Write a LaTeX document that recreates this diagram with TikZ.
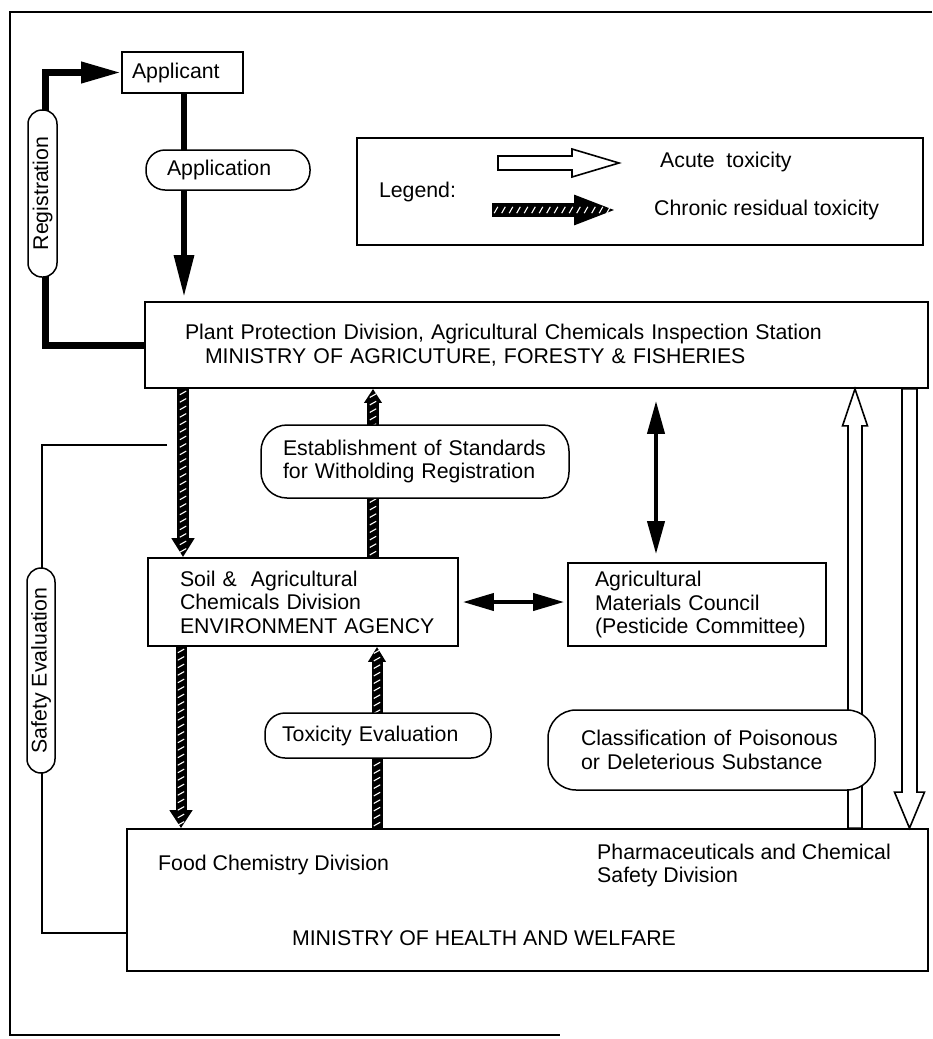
\documentclass[tikz,border=0pt]{standalone}
\usepackage{fontspec}
\setmainfont{Liberation Sans}
\usetikzlibrary{arrows.meta,decorations.markings,calc}
\pgfdeclarelayer{background}
\pgfsetlayers{background,main}
% white (acute toxicity) arrow, vertical: start, tip, shaft half width, head half width, signed head length (user units)
\newcommand\acuteV[5]{%
  \draw[acutestyle] ($(#1)+(-#3,0)$) -- ($(#2)+(-#3,#5)$) -- ($(#2)+(-#4,#5)$) -- (#2)
   -- ($(#2)+(#4,#5)$) -- ($(#2)+(#3,#5)$) -- ($(#1)+(#3,0)$) -- cycle;}
\newcommand\acuteH[5]{%
  \draw[acutestyle] ($(#1)+(0,-#3)$) -- ($(#2)+(#5,-#3)$) -- ($(#2)+(#5,-#4)$) -- (#2)
   -- ($(#2)+(#5,#4)$) -- ($(#2)+(#5,#3)$) -- ($(#1)+(0,#3)$) -- cycle;}
\tikzset{
  every node/.style={font=\fontsize{21.3}{23.5}\selectfont},
  box/.style={draw, line width=1.8pt, align=left, inner sep=0pt},
  pill/.style={draw, fill=white, line width=1.5pt, align=left, inner sep=0pt},
  txt/.style={inner sep=0pt},
  acutestyle/.style={draw=black, fill=white, line width=1.6pt, line join=miter},
  hatchV/.style={draw=black, postaction={decorate, decoration={markings,
      mark=between positions 4pt and -3pt step 7.5pt with
      {\draw[white, line width=1.1pt, -, shorten <=0pt, shorten >=0pt] (-1.8pt,3.2pt) -- (1.8pt,-3.2pt);}}}},
  hatchH/.style={draw=black, postaction={decorate, decoration={markings,
      mark=between positions 4pt and -3pt step 7.5pt with
      {\draw[white, line width=1.1pt, -, shorten <=0pt, shorten >=0pt] (-1.8pt,-3.2pt) -- (1.8pt,3.2pt);}}}},
  thick arrow/.style={draw=black, line join=miter}
}
\begin{document}
\begin{tikzpicture}[x=1pt,y=-1pt]
\useasboundingbox (0,0) rectangle (932,1039);
% outer frame
\draw[line width=1.5pt] (932,12) -- (10,12) -- (10,1035) -- (560,1035);

% helper coordinates
\coordinate (xapp) at (184,0);
\coordinate (xh1) at (183,0);
\coordinate (xh2) at (373,0);
\coordinate (xh3) at (181,0);
\coordinate (xh4) at (377,0);
\coordinate (xv) at (656,0);
\coordinate (xup) at (855,0);
\coordinate (xdn) at (909.5,0);
\coordinate (regc) at (45,200);
\coordinate (seA) at (167,445);
\coordinate (sec) at (42,600);
\coordinate (seY) at (0,933);
\coordinate (la1) at (498,163);
\coordinate (la2) at (619,163);
\coordinate (lb1) at (492,210);
\coordinate (lb2) at (617,210);

% nodes
\node[box, minimum width=121pt, minimum height=41pt, text width=101pt] (applicant) at (182.5,72.5) {Applicant};
\node[pill, minimum width=164pt, minimum height=40pt, text width=122pt, rounded corners=19pt] (application) at (228,170) {Application};
\node[pill, rotate=90, align=center, minimum width=167pt, minimum height=29pt, rounded corners=14pt] (registration) at (42.5,193.5) {Registration};
\node[box, minimum width=566pt, minimum height=107pt, text width=522pt] (legend) at (640,191.5) {Legend:};
\node[txt, anchor=west] (acute) at (660,162) {Acute\ \ toxicity};
\node[txt, anchor=west] (chronic) at (654,210) {Chronic residual toxicity};
\node[box, minimum width=783pt, minimum height=86pt, text width=703pt] (plant) at (536.5,345)
  {\mbox{Plant Protection Division, Agricultural Chemicals Inspection Station}\\\hspace*{20pt}MINISTRY OF AGRICUTURE, FORESTY \& FISHERIES};
\node[pill, minimum width=308pt, minimum height=73pt, text width=264pt, rounded corners=26pt] (estab) at (415,461.5)
  {\mbox{Establishment of Standards}\\for Witholding Registration};
\node[box, minimum width=310pt, minimum height=88pt, text width=246pt] (soil) at (303,602)
  {Soil \&\ \ Agricultural\\Chemicals Division\\\mbox{ENVIRONMENT AGENCY}};
\node[box, minimum width=258pt, minimum height=83pt, text width=204pt] (agri) at (697,604.5)
  {Agricultural\\Materials Council\\\mbox{(Pesticide Committee)}};
\node[pill, minimum width=226pt, minimum height=45pt, text width=192pt, rounded corners=20pt] (toxeval) at (378,735.5) {Toxicity Evaluation};
\node[pill, minimum width=327pt, minimum height=80pt, text width=261pt, rounded corners=28pt] (classif) at (711.5,750)
  {\mbox{Classification of Poisonous}\\or Deleterious Substance};
\node[box, minimum width=801pt, minimum height=142pt] (health) at (527.5,900) {};
\node[txt, anchor=west] (food) at (158,865) {Food Chemistry Division};
\node[txt, anchor=west, align=left] (pharma) at (597,865.5) {Pharmaceuticals and Chemical\\Safety Division};
\node[txt] (mohw) at (484,938) {MINISTRY OF HEALTH AND WELFARE};
\node[pill, rotate=90, align=center, minimum width=205pt, minimum height=28pt, rounded corners=14pt] (safety) at (41,670.5) {Safety Evaluation};

% arrow end points on the boxes
\coordinate (upS) at (health.north -| xup);
\coordinate (upT) at (plant.south -| xup);
\coordinate (dnS) at (plant.south -| xdn);
\coordinate (dnT) at (health.north -| xdn);

\begin{pgfonlayer}{background}
% applicant -> plant
\draw[thick arrow, line width=6pt, -{Triangle[length=42pt,width=19pt]}, shorten >=4pt] (applicant.south -| xapp) -- (plant.north -| xapp);
% registration
\draw[thick arrow, line width=7pt, -{Triangle[length=40pt,width=20pt]}] (plant.west) -| (regc) |- (applicant.west);
% safety evaluation
\draw[line width=1.3pt] (seA) -| (sec) |- (health.west |- seY);
% chronic (hatched) arrows
\draw[hatchV, line width=12pt, -{Triangle[length=19pt,width=22pt]}] (plant.south -| xh1) -- (soil.north -| xh1);
\draw[hatchV, line width=12pt, -{Triangle[length=14pt,width=17pt]}] (soil.north -| xh2) -- (plant.south -| xh2);
\draw[hatchV, line width=11pt, -{Triangle[length=18pt,width=22pt]}] (soil.south -| xh3) -- (health.north -| xh3);
\draw[hatchV, line width=11pt, -{Triangle[length=15pt,width=17pt]}] (health.north -| xh4) -- (soil.south -| xh4);
% double arrows
\draw[line width=4pt, {Triangle[length=31pt,width=17pt]}-{Triangle[length=31pt,width=17pt]}, shorten <=4pt, shorten >=3pt] (soil.east) -- (agri.west |- soil.east);
\draw[line width=4pt, {Triangle[length=33pt,width=17pt]}-{Triangle[length=33pt,width=17pt]}, shorten <=12pt, shorten >=8pt] (plant.south -| xv) -- (agri.north -| xv);
% acute (white) arrows
\acuteV{upS}{upT}{7}{12.5}{37}
\acuteV{dnS}{dnT}{7.5}{15}{-36}
% legend samples
\acuteH{la1}{la2}{7}{14}{-47}
\draw[hatchH, line width=14pt, -{Triangle[length=43pt,width=27pt]}] (lb1) -- (lb2);
\end{pgfonlayer}
\end{tikzpicture}
\end{document}
